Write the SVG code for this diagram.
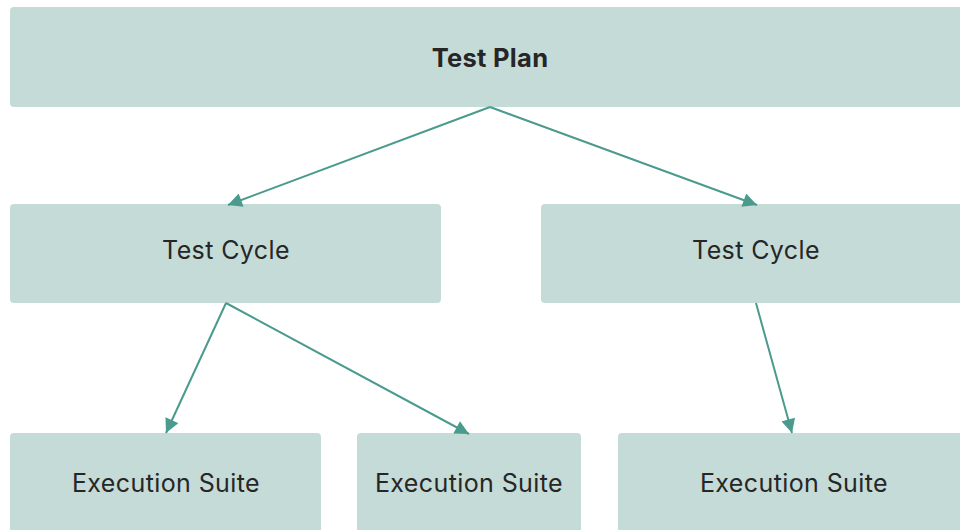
<svg xmlns="http://www.w3.org/2000/svg" width="960" height="530" viewBox="0 0 960 530">
<defs>
<style>
.box{fill:#c5dbd7;}
.lbl{font-family:Inter,"Open Sans",sans-serif;font-size:25px;letter-spacing:0.4px;fill:#262626;text-anchor:middle;}
.b{font-weight:bold;font-size:25.5px;letter-spacing:0.3px;}
.con{stroke:#4a9a8e;stroke-width:2;fill:none;marker-end:url(#ah);}
</style>
<marker id="ah" viewBox="0 0 10 10" refX="10" refY="5" markerWidth="7.5" markerHeight="7" markerUnits="strokeWidth" orient="auto">
<path d="M0,0 L10,5 L0,10 Z" fill="#4a9a8e"/>
</marker>
</defs>
<rect width="960" height="530" fill="#fff"/>
<g id="test-plan"><rect class="box" x="10" y="7" width="960" height="100" rx="4"/><text class="lbl b" x="490" y="67">Test Plan</text></g>
<g id="test-cycle-1"><rect class="box" x="10" y="204" width="431" height="99" rx="4"/><text class="lbl" x="226" y="259">Test Cycle</text></g>
<g id="test-cycle-2"><rect class="box" x="541" y="204" width="430" height="99" rx="4"/><text class="lbl" x="756" y="259">Test Cycle</text></g>
<g id="exec-suite-1"><rect class="box" x="10" y="433" width="311" height="110" rx="4"/><text class="lbl" x="166" y="492">Execution Suite</text></g>
<g id="exec-suite-2"><rect class="box" x="357" y="433" width="224" height="110" rx="4"/><text class="lbl" x="469" y="492">Execution Suite</text></g>
<g id="exec-suite-3"><rect class="box" x="618" y="433" width="360" height="110" rx="4"/><text class="lbl" x="794" y="492">Execution Suite</text></g>
<g id="connectors">
<line class="con" x1="490" y1="107" x2="228" y2="205"/>
<line class="con" x1="490" y1="107" x2="757" y2="205"/>
<line class="con" x1="226" y1="303" x2="166" y2="433"/>
<line class="con" x1="226" y1="303" x2="469" y2="434"/>
<line class="con" x1="756" y1="303" x2="792" y2="433"/>
</g>
</svg>
